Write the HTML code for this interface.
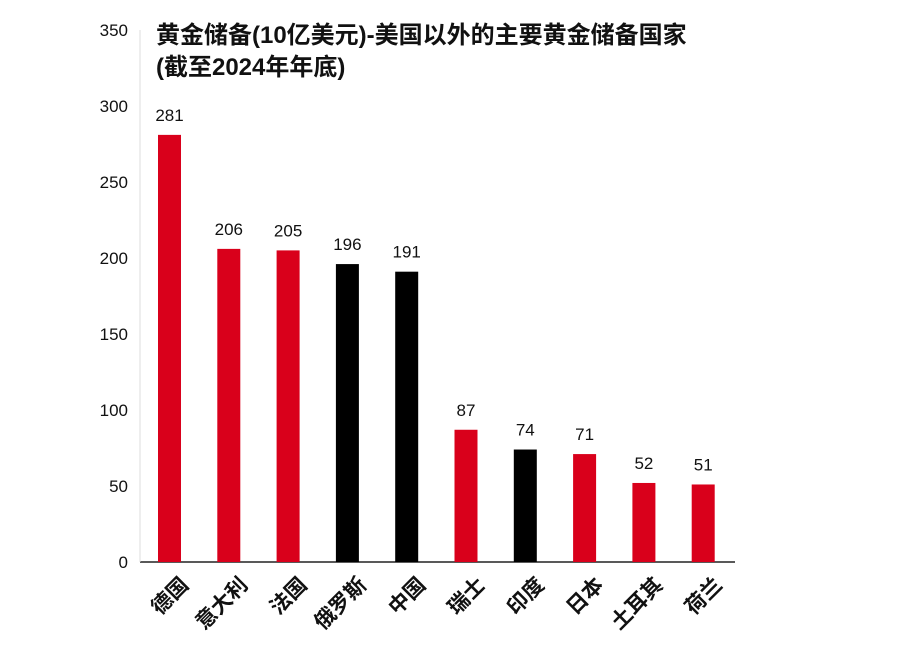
<!DOCTYPE html>
<html><head><meta charset="utf-8"><style>
body{margin:0;background:#fff;width:910px;height:649px;overflow:hidden}
text{font-family:"Liberation Sans","Noto Sans CJK SC",sans-serif}
</style></head><body>
<svg id="chart" width="910" height="649" xmlns="http://www.w3.org/2000/svg">
<text x="156" y="43" font-size="24" font-weight="bold" fill="#111">黄金储备(10亿美元)-美国以外的主要黄金储备国家</text>
<text x="156" y="75" font-size="24" font-weight="bold" fill="#111">(截至2024年年底)</text>
<g id="axes"></g><g id="bars"></g>
</svg>
<script>
const categories=["德国","意大利","法国","俄罗斯","中国","瑞士","印度","日本","土耳其","荷兰"];
const values=[281,206,205,196,191,87,74,71,52,51];
const barColors=["red","red","red","black","black","red","black","red","red","red"];
const yTicks=[0,50,100,150,200,250,300,350];
const NS="http://www.w3.org/2000/svg";
const y0=562,pxPer=1.52,x0=140,step=59.3,first=169.5,bw=23;
const ys=v=>y0-v*pxPer, xs=i=>first+i*step;
function mk(t,a,p){const e=document.createElementNS(NS,t);for(const k in a)e.setAttribute(k,a[k]);p.appendChild(e);return e;}
const ax=document.getElementById('axes'),bg=document.getElementById('bars');
const xl=mk('line',{x1:x0,y1:y0,x2:735,y2:y0,stroke:'#222','stroke-width':1.5},ax);

const yl=mk('line',{x1:x0,y1:y0,x2:x0,y2:ys(350),stroke:'#ddd','stroke-width':1},ax);

yTicks.forEach(v=>{const t=mk('text',{x:128,y:ys(v)+6,'text-anchor':'end','font-size':17,fill:'#111'},ax);t.textContent=v;
});
values.forEach((v,i)=>{const c=barColors[i]=="red"?"#d9001b":"#000";
const r=mk('rect',{x:xs(i)-bw/2,y:ys(v),width:bw,height:v*pxPer,fill:c},bg);

const l=mk('text',{x:xs(i),y:ys(v)-14,'text-anchor':'middle','font-size':17,fill:'#111'},bg);l.textContent=v;

const cx=xs(i)+10,cy=576;
const t=mk('text',{x:cx,y:cy,'text-anchor':'end','font-size':21,'font-weight':'bold',fill:'#111',transform:`rotate(-45 ${cx} ${cy})`,'dominant-baseline':'hanging'},bg);
t.textContent=categories[i];});
</script>
</body></html>
